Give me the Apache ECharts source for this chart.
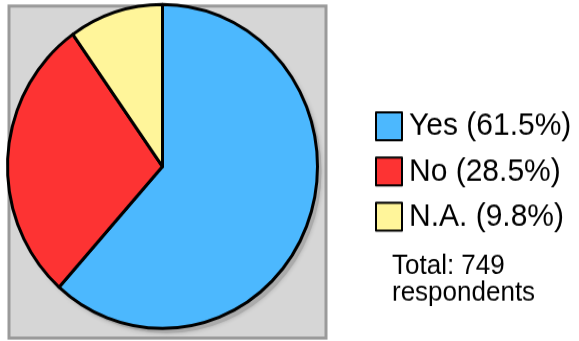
<!DOCTYPE html>
<html><head><meta charset="utf-8">
<script src="https://cdn.jsdelivr.net/npm/echarts@6/dist/echarts.min.js"></script>
<style>
html,body{margin:0;padding:0;background:#fff;overflow:hidden}
#wrap{position:relative;width:579px;height:341px}
#pie{position:absolute;left:0;top:0;width:579px;height:326px;transform:scaleY(1.045);transform-origin:0 0}
#leg{position:absolute;left:0;top:0;width:579px;height:318px;transform:scaleY(1.07);transform-origin:0 0}
</style>
</head><body><div id="wrap"><div id="pie"></div><div id="leg"></div></div>
<script>
const categories = ['Yes', 'No', 'N.A.'];
const percents = [61.5, 28.5, 9.8];
const colors = ['#4cb8fe', '#fd3333', '#fff59a'];
const totalText = ['Total: 749', 'respondents'];

const pieChart = echarts.init(document.getElementById('pie'), null, {renderer: 'canvas'});
pieChart.setOption({
  animation: false,
  graphic: [{
    type: 'rect', z: -10,
    shape: {x: 9, y: 5.8, width: 317, height: 317.6},
    style: {fill: '#d6d6d6', stroke: '#9a9a9a', lineWidth: 3}
  }],
  series: [{
    type: 'pie', silent: true, z: 1,
    center: [166.5, 163.8], radius: 155,
    label: {show: false}, labelLine: {show: false},
    itemStyle: {color: '#ababab', shadowBlur: 4, shadowColor: 'rgba(0,0,0,0.2)'},
    data: [{value: 1, name: '_shadow'}]
  }, {
    type: 'pie', z: 2,
    center: [162.5, 159.3], radius: 155,
    startAngle: 90, clockwise: true,
    label: {show: false}, labelLine: {show: false},
    itemStyle: {borderColor: '#000', borderWidth: 3},
    data: categories.map((c, i) => ({name: c, value: percents[i], itemStyle: {color: colors[i]}}))
  }]
});

const legChart = echarts.init(document.getElementById('leg'), null, {renderer: 'canvas'});
legChart.setOption({
  animation: false,
  title: {
    text: totalText.join('\n'),
    left: 392, top: 236, padding: 0,
    textStyle: {fontFamily: 'Liberation Sans', fontSize: 26, fontWeight: 'normal', color: '#000', lineHeight: 25.5}
  },
  legend: {
    orient: 'vertical', left: 375, top: 103, padding: 0,
    icon: 'rect', itemWidth: 26, itemHeight: 26, itemGap: 12.3,
    data: categories,
    itemStyle: {borderColor: '#000', borderWidth: 2},
    textStyle: {fontFamily: 'Liberation Sans', fontSize: 30, color: '#000', lineHeight: 26, padding: [0, 0, 0, 2]},
    formatter: function (name) { const i = categories.indexOf(name); return name + ' (' + percents[i] + '%)'; }
  },
  series: [{
    type: 'pie', radius: 0, center: [-100, -100], silent: true,
    label: {show: false}, labelLine: {show: false},
    data: categories.map((c, i) => ({name: c, value: percents[i], itemStyle: {color: colors[i]}}))
  }]
});
</script></body></html>
